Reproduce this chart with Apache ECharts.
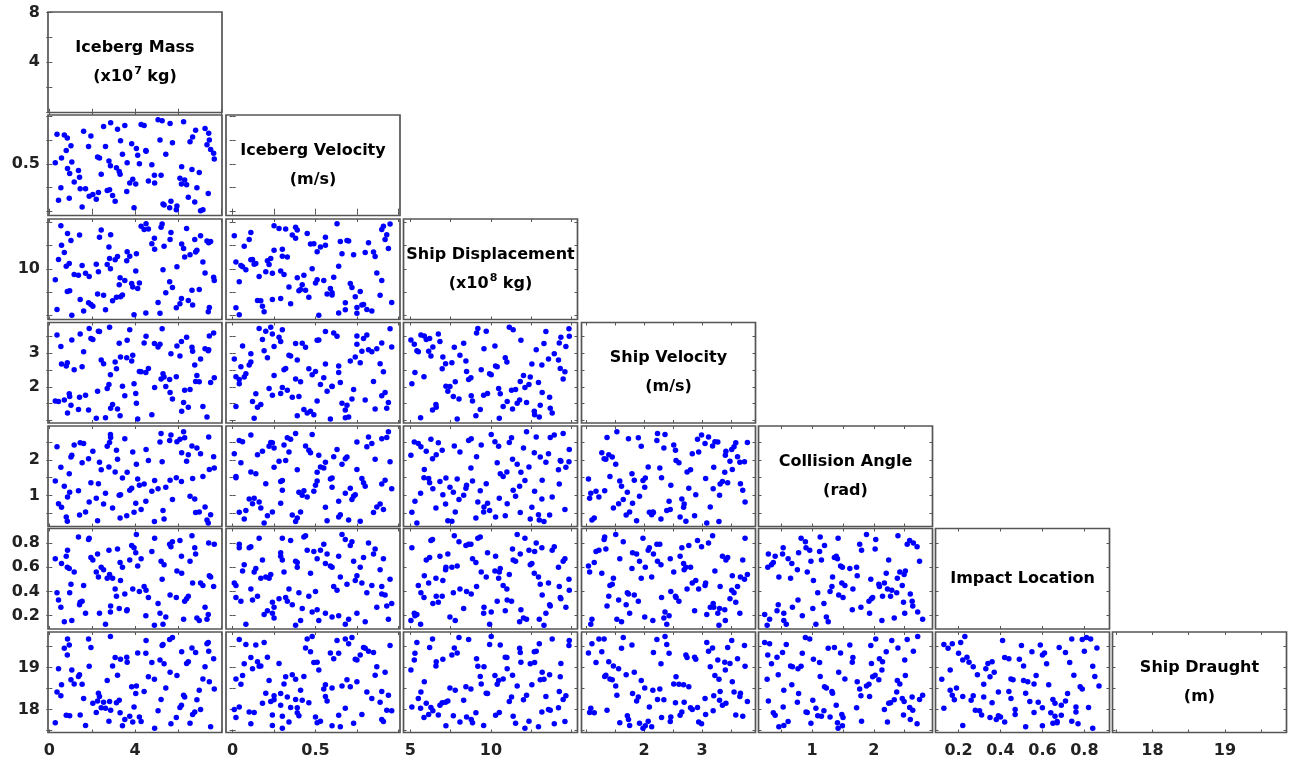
<!DOCTYPE html>
<html>
<head>
<meta charset="utf-8">
<script src="https://cdn.jsdelivr.net/npm/echarts@6/dist/echarts.min.js"></script>
<style>
  html, body { margin: 0; padding: 0; background: #fff; }
  #chart { width: 1293px; height: 766px; }
</style>
</head>
<body>
<div id="chart"></div>
<script>
// ---- Sample values (one entry per simulated collision case) ----
const icebergMass = [2.85, 5.74, 0.85, 1.83, 5.61, 4.51, 7.41, 7.35, 5.30, 0.93,
  5.26, 1.94, 6.65, 0.70, 7.43, 6.17, 6.82, 4.12, 4.50, 0.84,
  3.07, 3.61, 7.66, 3.32, 5.16, 6.48, 3.63, 4.78, 6.40, 5.35,
  2.95, 1.86, 7.26, 0.43, 1.05, 5.63, 1.41, 3.18, 5.95, 1.36,
  4.62, 7.16, 4.90, 1.01, 2.70, 7.46, 1.16, 1.53, 0.57, 4.06,
  3.84, 5.43, 7.69, 6.99, 4.42, 0.36, 2.29, 4.03, 6.26, 0.54,
  2.34, 6.31, 1.60, 5.21, 6.88, 3.26, 2.25, 2.81, 2.53, 3.13,
  2.03, 6.16, 3.95, 6.09, 2.42, 2.62, 7.05, 2.86, 5.07, 6.78,
  2.19, 3.30, 6.68, 1.44, 0.79, 0.95, 3.75, 4.20, 5.92, 3.52,
  2.78, 4.28, 3.89, 0.28, 6.56, 5.67, 1.69, 3.41, 7.52, 4.91];

const icebergVelocity = [0.48, 0.72, 0.45, 0.68, 0.04, 0.63, 0.19, 0.70, 0.08, 0.14,
  0.95, 0.79, 0.44, 0.80, 0.82, 0.47, 0.85, 0.59, 0.64, 0.77,
  0.11, 0.21, 0.61, 0.74, 0.75, 0.15, 0.51, 0.49, 0.28, 0.07,
  0.17, 0.16, 0.87, 0.12, 0.52, 0.92, 0.36, 0.86, 0.06, 0.43,
  0.32, 0.02, 0.38, 0.69, 0.22, 0.75, 0.31, 0.05, 0.56, 0.66,
  0.71, 0.60, 0.55, 0.41, 0.90, 0.81, 0.20, 0.29, 0.94, 0.25,
  0.56, 0.33, 0.84, 0.38, 0.25, 0.42, 0.57, 0.23, 0.89, 0.46,
  0.18, 0.29, 0.04, 0.35, 0.39, 0.68, 0.01, 0.93, 0.96, 0.10,
  0.13, 0.39, 0.78, 0.24, 0.64, 0.40, 0.30, 0.50, 0.02, 0.90,
  0.53, 0.91, 0.34, 0.51, 0.73, 0.11, 0.24, 0.60, 0.65, 0.30];

const shipDisplacement = [10.02, 8.02, 13.80, 6.38, 8.62, 14.86, 5.41, 13.00, 9.92, 10.58,
  14.84, 6.20, 7.73, 11.78, 12.81, 12.69, 11.82, 7.91, 5.29, 7.58,
  10.99, 10.89, 9.11, 7.02, 5.25, 6.61, 11.86, 12.71, 14.34, 12.44,
  6.59, 9.19, 9.57, 11.01, 5.04, 13.18, 13.64, 11.34, 10.25, 9.34,
  14.30, 10.76, 13.29, 13.06, 10.48, 5.87, 9.40, 10.39, 12.54, 11.63,
  8.45, 7.46, 8.76, 7.79, 14.24, 5.66, 9.71, 9.79, 12.21, 14.65,
  13.41, 11.28, 5.50, 14.48, 12.02, 8.31, 7.33, 11.14, 7.19, 6.98,
  5.99, 6.84, 5.10, 6.28, 14.19, 5.64, 13.57, 13.68, 6.40, 13.16,
  10.52, 9.07, 6.14, 6.74, 10.29, 7.67, 11.38, 8.49, 5.85, 8.78,
  12.36, 14.59, 8.08, 8.86, 11.53, 13.93, 9.55, 7.21, 12.95, 12.11];

const shipVelocity = [2.36, 1.64, 1.22, 1.31, 2.22, 3.51, 3.08, 1.10, 2.39, 1.79,
  3.73, 3.44, 3.18, 1.61, 3.11, 1.27, 2.16, 1.04, 2.43, 2.72,
  2.74, 2.87, 3.61, 2.89, 3.27, 1.39, 3.39, 1.17, 3.48, 2.29,
  1.47, 3.74, 3.14, 1.56, 3.40, 1.83, 1.69, 1.34, 3.22, 1.32,
  2.55, 1.41, 3.29, 1.45, 1.95, 3.52, 2.51, 2.60, 2.68, 1.51,
  2.77, 2.01, 2.27, 2.15, 3.31, 3.55, 3.66, 1.80, 1.53, 3.20,
  3.65, 1.90, 3.05, 2.23, 2.34, 3.30, 1.87, 3.78, 2.69, 2.54,
  3.41, 3.35, 2.09, 2.92, 2.80, 1.08, 2.83, 1.36, 3.19, 2.65,
  1.06, 1.14, 3.06, 3.58, 2.62, 1.71, 3.70, 2.46, 2.30, 1.73,
  2.07, 2.45, 2.94, 1.58, 1.92, 2.99, 1.75, 2.02, 2.13, 1.98];

const collisionAngle = [2.71, 0.89, 0.96, 2.03, 2.54, 2.29, 0.23, 0.31, 0.58, 1.61,
  1.95, 1.36, 2.39, 1.26, 2.64, 2.20, 0.52, 1.46, 0.84, 0.28,
  1.66, 0.43, 2.09, 1.02, 2.50, 2.14, 1.65, 1.12, 1.96, 0.34,
  0.65, 0.82, 0.68, 0.77, 2.13, 1.43, 0.45, 2.02, 2.51, 1.13,
  1.98, 1.53, 0.27, 2.08, 2.38, 1.73, 2.42, 1.92, 0.67, 1.88,
  1.20, 1.23, 1.77, 0.54, 1.32, 2.37, 1.33, 0.78, 2.79, 1.79,
  1.93, 2.62, 2.46, 2.74, 2.33, 1.01, 0.29, 2.49, 0.76, 2.27,
  2.24, 1.39, 0.53, 2.58, 1.72, 1.06, 2.17, 2.63, 1.19, 0.90,
  0.92, 0.37, 1.48, 2.48, 0.40, 1.09, 1.15, 1.29, 1.50, 2.59,
  1.80, 0.61, 2.22, 1.41, 0.98, 2.70, 0.54, 1.49, 0.46, 1.42];

const impactLocation = [0.23, 0.81, 0.74, 0.83, 0.79, 0.41, 0.21, 0.17, 0.13, 0.59,
  0.50, 0.68, 0.86, 0.15, 0.80, 0.55, 0.71, 0.61, 0.20, 0.60,
  0.42, 0.24, 0.44, 0.49, 0.22, 0.36, 0.25, 0.73, 0.34, 0.62,
  0.51, 0.84, 0.27, 0.33, 0.16, 0.37, 0.29, 0.75, 0.57, 0.85,
  0.35, 0.45, 0.12, 0.46, 0.51, 0.53, 0.56, 0.32, 0.63, 0.87,
  0.78, 0.19, 0.79, 0.16, 0.44, 0.39, 0.52, 0.72, 0.17, 0.27,
  0.22, 0.32, 0.45, 0.65, 0.18, 0.26, 0.71, 0.54, 0.58, 0.36,
  0.66, 0.69, 0.76, 0.82, 0.60, 0.13, 0.47, 0.28, 0.30, 0.76,
  0.56, 0.64, 0.47, 0.31, 0.69, 0.39, 0.66, 0.40, 0.35, 0.38,
  0.74, 0.67, 0.42, 0.67, 0.65, 0.77, 0.22, 0.60, 0.52, 0.84];

const shipDraught = [19.74, 19.72, 19.68, 19.68, 19.67, 19.65, 19.60, 19.57, 19.55, 19.54,
  19.53, 19.48, 19.47, 19.46, 19.39, 19.38, 19.36, 19.35, 19.34, 19.30,
  19.24, 19.25, 19.21, 19.20, 19.18, 19.14, 19.13, 19.12, 19.10, 19.09,
  19.04, 19.03, 19.02, 18.97, 18.94, 18.89, 18.83, 18.82, 18.81, 18.79,
  18.78, 18.73, 18.72, 18.71, 18.69, 18.66, 18.61, 18.60, 18.59, 18.56,
  18.54, 18.51, 18.49, 18.46, 18.43, 18.42, 18.39, 18.38, 18.34, 18.33,
  18.31, 18.30, 18.26, 18.24, 18.23, 18.22, 18.20, 18.19, 18.17, 18.16,
  18.15, 18.10, 18.06, 18.05, 18.04, 18.03, 18.00, 17.98, 17.97, 17.94,
  17.93, 17.92, 17.88, 17.87, 17.86, 17.85, 17.84, 17.82, 17.81, 17.76,
  17.72, 17.71, 17.70, 17.68, 17.67, 17.66, 17.62, 17.61, 17.59, 17.55];

// ---- Variable titles (diagonal cells); {s|..} marks a superscript ----
const variableTitles = [
  'Iceberg Mass\n(x10{s|7} kg)',
  'Iceberg Velocity\n(m/s)',
  'Ship Displacement\n(x10{s|8} kg)',
  'Ship Velocity\n(m/s)',
  'Collision Angle\n(rad)',
  'Impact Location',
  'Ship Draught\n(m)'
];

// ---- Axis ranges, tick marks and tick labels per variable ----
const axisMin = [-0.06, -0.04, 4.58, 0.92, 0.13, 0.09, 17.45];
const axisMax = [8.05, 1.01, 15.37, 3.92, 2.95, 0.92, 19.85];
const tickMarks = [
  [0, 2, 4, 6, 8],
  [0, 0.25, 0.5, 0.75, 1],
  [5, 7.5, 10, 12.5, 15],
  [1, 1.5, 2, 2.5, 3, 3.5],
  [0.5, 1, 1.5, 2, 2.5],
  [0.2, 0.4, 0.6, 0.8],
  [17.5, 18, 18.5, 19, 19.5]
];
const bottomLabels = [[0, 4], [0, 0.5], [5, 10], [2, 3], [1, 2], [0.2, 0.4, 0.6, 0.8], [18, 19]];
const leftLabels = [[4, 8], [0.5], [10], [2, 3], [1, 2], [0.2, 0.4, 0.6, 0.8], [18, 19]];

// ---- Layout of the 7 x 7 lower-triangular matrix ----
const colLeft = [48, 226, 403.5, 581.5, 758.5, 935.5, 1112.5];
const rowTop = [12, 115, 219, 322.5, 426, 528.5, 632];
const cellW = 174;
const cellH = 100.5;

const variables = [icebergMass, icebergVelocity, shipDisplacement, shipVelocity,
  collisionAngle, impactLocation, shipDraught];

const FONT = '"DejaVu Sans", "Liberation Sans", Arial, sans-serif';
const labelStyle = { fontFamily: FONT, fontSize: 16, fontWeight: 'bold', color: '#222' };
const tickStyle = { show: true, inside: true, length: 3, lineStyle: { color: '#555', width: 1 } };

const grids = [], xAxes = [], yAxes = [], series = [], graphics = [];
const n = variables.length;

for (let r = 0; r < n; r++) {
  for (let c = 0; c <= r; c++) {
    const g = grids.length;
    grids.push({
      left: colLeft[c], top: rowTop[r], width: cellW, height: cellH,
      show: true, backgroundColor: '#fff', borderColor: '#555', borderWidth: 1.7
    });
    const common = { gridIndex: g, type: 'value', axisLine: { show: false }, splitLine: { show: false } };
    // bottom + mirrored top x axis
    xAxes.push(Object.assign({}, common, {
      position: 'bottom', min: axisMin[c], max: axisMax[c],
      axisTick: Object.assign({ customValues: tickMarks[c] }, tickStyle),
      axisLabel: Object.assign({ show: r === n - 1, margin: 10, customValues: bottomLabels[c] }, labelStyle)
    }));
    xAxes.push(Object.assign({}, common, {
      position: 'top', min: axisMin[c], max: axisMax[c],
      axisTick: Object.assign({ customValues: tickMarks[c] }, tickStyle),
      axisLabel: { show: false }
    }));
    // left + mirrored right y axis
    yAxes.push(Object.assign({}, common, {
      position: 'left', min: axisMin[r], max: axisMax[r],
      axisTick: Object.assign({ customValues: tickMarks[r] }, tickStyle),
      axisLabel: Object.assign({ show: c === 0, margin: 8, customValues: leftLabels[r] }, labelStyle)
    }));
    yAxes.push(Object.assign({}, common, {
      position: 'right', min: axisMin[r], max: axisMax[r],
      axisTick: Object.assign({ customValues: tickMarks[r] }, tickStyle),
      axisLabel: { show: false }
    }));

    if (r !== c) {
      const xs = variables[c], ys = variables[r];
      series.push({
        type: 'scatter',
        xAxisIndex: 2 * g, yAxisIndex: 2 * g,
        data: xs.map((v, k) => [v, ys[k]]),
        symbol: 'circle', symbolSize: 5.5,
        itemStyle: { color: '#0000ff', opacity: 1 },
        silent: true, animation: false
      });
    } else {
      graphics.push({
        type: 'text',
        x: colLeft[c] + cellW / 2,
        y: rowTop[r] + cellH / 2,
        silent: true,
        style: {
          text: variableTitles[r].split('\n').map(line =>
            line.split(/(\{s\|[^}]*\})/).filter(p => p).map(p => p.startsWith('{s|') ? p : '{t|' + p + '}').join('')
          ).join('\n'),
          align: 'center', verticalAlign: 'middle',
          rich: {
            t: { fontFamily: FONT, fontSize: 16, fontWeight: 'bold', fill: '#000', lineHeight: 29 },
            s: { fontFamily: FONT, fontSize: 11, fontWeight: 'bold', fill: '#000', lineHeight: 29, verticalAlign: 'top', padding: [3, 0, 0, 1] }
          }
        }
      });
    }
  }
}

const chart = echarts.init(document.getElementById('chart'), null, { renderer: 'canvas' });
chart.setOption({
  backgroundColor: '#fff',
  animation: false,
  grid: grids,
  xAxis: xAxes,
  yAxis: yAxes,
  series: series,
  graphic: graphics
});
</script>
</body>
</html>
